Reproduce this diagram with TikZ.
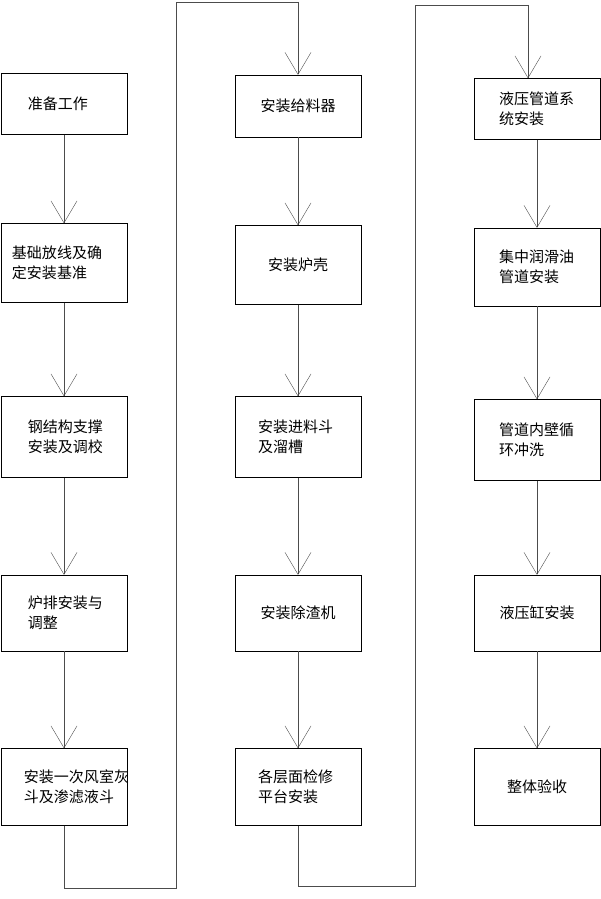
\documentclass[tikz,border=0pt]{standalone}
\usepackage{fontspec}
\newfontfamily\cjk{Noto Sans CJK SC}
\usetikzlibrary{arrows.meta}
\tikzstyle{stepbox} = [rectangle, minimum width=126pt, text width=104pt, align=left, draw=black, fill=white, font=\cjk\fontsize{15pt}{20pt}\selectfont, inner sep=2pt]
\tikzstyle{arrow} = [draw=black!70, line width=0.5pt, -{Straight Barb[length=22pt,width=26pt,line width=0.4pt]}]
\tikzstyle{line} = [draw=black!70, line width=0.5pt]

\begin{document}
\begin{tikzpicture}[x=1pt, y=-1pt]
    \useasboundingbox (0,0) rectangle (600,899);
    \node (a1) [stepbox, minimum height=61pt] at (64,104) {\hspace*{16pt}准备工作};
    \node (a2) [stepbox, minimum height=79pt] at (64,263) {基础放线及确\\定安装基准};
    \node (a3) [stepbox, minimum height=81pt] at (64,437) {\hspace*{16pt}钢结构支撑\\\hspace*{16pt}安装及调校};
    \node (a4) [stepbox, minimum height=76pt] at (64,613) {\hspace*{16pt}炉排安装与\\\hspace*{16pt}调整};
    \node (a5) [stepbox, minimum height=77pt] at (64,787) {\hspace*{12pt}安装一次风室灰\\\hspace*{12pt}斗及渗滤液斗};
    \node (b1) [stepbox, minimum height=62pt, align=center] at (298,106) {安装给料器};
    \node (b2) [stepbox, minimum height=79pt, align=center] at (298,265) {安装炉壳};
    \node (b3) [stepbox, minimum height=81pt] at (298,437) {\hspace*{12pt}安装进料斗\\\hspace*{12pt}及溜槽};
    \node (b4) [stepbox, minimum height=76pt, align=center] at (298,613) {安装除渣机};
    \node (b5) [stepbox, minimum height=77pt] at (298,787) {\hspace*{12pt}各层面检修\\\hspace*{12pt}平台安装};
    \node (c1) [stepbox, minimum height=61pt] at (537,109) {\hspace*{14pt}液压管道系\\\hspace*{14pt}统安装};
    \node (c2) [stepbox, minimum height=78pt] at (537,267) {\hspace*{14pt}集中润滑油\\\hspace*{14pt}管道安装};
    \node (c3) [stepbox, minimum height=81pt] at (537,440) {\hspace*{14pt}管道内壁循\\\hspace*{14pt}环冲洗};
    \node (c4) [stepbox, minimum height=76pt, align=center] at (537,613) {液压缸安装};
    \node (c5) [stepbox, minimum height=77pt, align=center] at (537,787) {整体验收};
    \coordinate (k1) at (64,888);
    \coordinate (k2) at (176,888);
    \coordinate (k3) at (176,2);
    \coordinate (k4) at (298,2);
    \coordinate (m1) at (298,886);
    \coordinate (m2) at (415,886);
    \coordinate (m3) at (415,5);
    \coordinate (m4) at (528,5);
    \draw [arrow] (a1) -- (a2);
    \draw [arrow] (a2) -- (a3);
    \draw [arrow] (a3) -- (a4);
    \draw [arrow] (a4) -- (a5);
    \draw [line] (a5) -- (k1) -- (k2) -- (k3) -- (k4);
    \draw [arrow] (k4) -- (b1);
    \draw [arrow] (b1) -- (b2);
    \draw [arrow] (b2) -- (b3);
    \draw [arrow] (b3) -- (b4);
    \draw [arrow] (b4) -- (b5);
    \draw [line] (b5) -- (m1) -- (m2) -- (m3) -- (m4);
    \draw [arrow] (m4) -- (c1.north -| m4);
    \draw [arrow] (c1) -- (c2);
    \draw [arrow] (c2) -- (c3);
    \draw [arrow] (c3) -- (c4);
    \draw [arrow] (c4) -- (c5);
\end{tikzpicture}
\end{document}
